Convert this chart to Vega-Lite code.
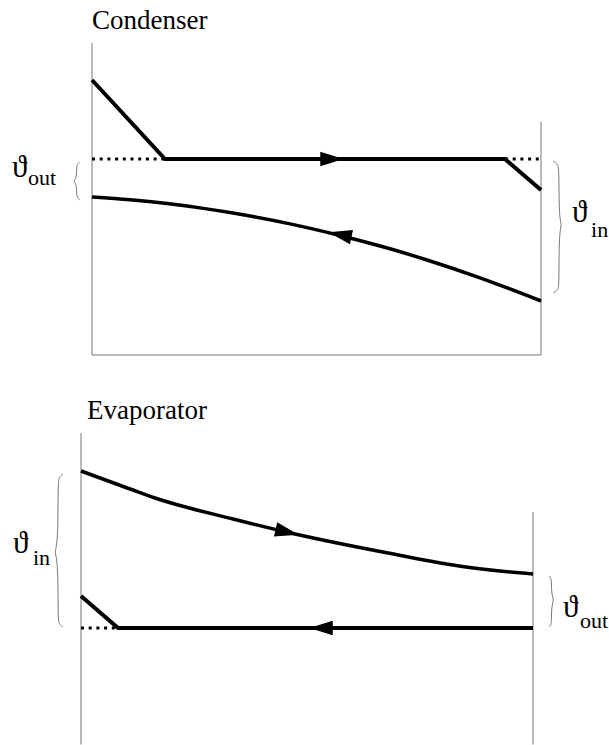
{
  "$schema": "https://vega.github.io/schema/vega-lite/v6.json",
  "width": 609,
  "height": 745,
  "autosize": {"type": "none"},
  "padding": 0,
  "background": "white",
  "config": {"view": {"stroke": null}},
  "datasets": {
    "condenser": [
      {"part": "frame", "X": 0, "T": 78, "X2": 0, "T2": 0},
      {"part": "frame", "X": 100, "T": 58.25, "X2": 100, "T2": 0},
      {"part": "frame", "X": 0, "T": 0, "X2": 100, "T2": 0},
      {"part": "dotted", "X": 0, "T": 49, "X2": 16.26, "T2": 49},
      {"part": "dotted", "X": 91.98, "T": 49, "X2": 100, "T2": 49},
      {"part": "refrigerant", "X": 0, "T": 68.75},
      {"part": "refrigerant", "X": 16.26, "T": 49},
      {"part": "refrigerant", "X": 91.98, "T": 49},
      {"part": "refrigerant", "X": 100, "T": 41.25},
      {"part": "water", "X": 0, "T": 39.5},
      {"part": "water", "X": 8.46, "T": 38.79},
      {"part": "water", "X": 16.7, "T": 37.85},
      {"part": "water", "X": 24.05, "T": 36.78},
      {"part": "water", "X": 31.4, "T": 35.48},
      {"part": "water", "X": 44.1, "T": 32.78},
      {"part": "water", "X": 55.68, "T": 29.75},
      {"part": "water", "X": 66.37, "T": 26.55},
      {"part": "water", "X": 74.61, "T": 23.75},
      {"part": "water", "X": 86.41, "T": 19.3},
      {"part": "water", "X": 100, "T": 13.5},
      {"part": "arrowR", "X": 53.45, "T": 49},
      {"part": "arrowL", "X": 55.23, "T": 30.1},
      {"part": "brace", "id": "out", "i": 0, "X": -2.673, "T": 48.25},
      {"part": "brace", "id": "out", "i": 1, "X": -3.341, "T": 47.75},
      {"part": "brace", "id": "out", "i": 2, "X": -3.452, "T": 46.25},
      {"part": "brace", "id": "out", "i": 3, "X": -3.452, "T": 44.25},
      {"part": "brace", "id": "out", "i": 4, "X": -4.232, "T": 43.5},
      {"part": "brace", "id": "out", "i": 5, "X": -3.452, "T": 42.75},
      {"part": "brace", "id": "out", "i": 6, "X": -3.452, "T": 40.75},
      {"part": "brace", "id": "out", "i": 7, "X": -3.341, "T": 39.25},
      {"part": "brace", "id": "out", "i": 8, "X": -2.673, "T": 38.75},
      {"part": "brace", "id": "in", "i": 0, "X": 102.67, "T": 48.5},
      {"part": "brace", "id": "in", "i": 1, "X": 103.79, "T": 47.75},
      {"part": "brace", "id": "in", "i": 2, "X": 104.01, "T": 45.75},
      {"part": "brace", "id": "in", "i": 3, "X": 104.01, "T": 34.25},
      {"part": "brace", "id": "in", "i": 4, "X": 104.68, "T": 32.5},
      {"part": "brace", "id": "in", "i": 5, "X": 104.01, "T": 30.75},
      {"part": "brace", "id": "in", "i": 6, "X": 104.01, "T": 17.5},
      {"part": "brace", "id": "in", "i": 7, "X": 103.79, "T": 16.25},
      {"part": "brace", "id": "in", "i": 8, "X": 102.67, "T": 15.5},
      {"part": "title", "X": 0, "T": 81.5, "label": "Condenser"},
      {"part": "symbol", "X": -17.81, "T": 44.5, "label": "ϑ"},
      {"part": "symbol", "X": 106.9, "T": 33.25, "label": "ϑ"},
      {"part": "sub", "X": -14.25, "T": 42.5, "label": "out"},
      {"part": "sub", "X": 111.14, "T": 29.5, "label": "in"}
    ],
    "evaporator": [
      {"part": "frame", "X": 0, "T": 78, "X2": 0, "T2": 0.125},
      {"part": "frame", "X": 100, "T": 58.25, "X2": 100, "T2": 0.125},
      {"part": "dotted", "X": 0, "T": 29.25, "X2": 8.19, "T2": 29.25},
      {"part": "refrigerant", "X": 0, "T": 37.25},
      {"part": "refrigerant", "X": 8.19, "T": 29.25},
      {"part": "refrigerant", "X": 100, "T": 29.25},
      {"part": "water", "X": 0, "T": 68.5},
      {"part": "water", "X": 10.84, "T": 64},
      {"part": "water", "X": 16.37, "T": 61.75},
      {"part": "water", "X": 33.63, "T": 56.5},
      {"part": "water", "X": 47.35, "T": 52.75},
      {"part": "water", "X": 67.92, "T": 48},
      {"part": "water", "X": 85.18, "T": 44.5},
      {"part": "water", "X": 92.7, "T": 43.5},
      {"part": "water", "X": 100, "T": 42.75},
      {"part": "arrowR", "X": 45.58, "T": 53.25},
      {"part": "arrowL", "X": 53.1, "T": 29.25},
      {"part": "brace", "id": "in", "i": 0, "X": -3.982, "T": 67.75},
      {"part": "brace", "id": "in", "i": 1, "X": -4.867, "T": 67},
      {"part": "brace", "id": "in", "i": 2, "X": -5.088, "T": 65.25},
      {"part": "brace", "id": "in", "i": 3, "X": -5.088, "T": 50},
      {"part": "brace", "id": "in", "i": 4, "X": -5.973, "T": 48.25},
      {"part": "brace", "id": "in", "i": 5, "X": -5.088, "T": 46.5},
      {"part": "brace", "id": "in", "i": 6, "X": -5.088, "T": 31.75},
      {"part": "brace", "id": "in", "i": 7, "X": -4.867, "T": 30.25},
      {"part": "brace", "id": "in", "i": 8, "X": -3.982, "T": 29.5},
      {"part": "brace", "id": "out", "i": 0, "X": 103.54, "T": 42.25},
      {"part": "brace", "id": "out", "i": 1, "X": 103.98, "T": 41.75},
      {"part": "brace", "id": "out", "i": 2, "X": 104.09, "T": 40.5},
      {"part": "brace", "id": "out", "i": 3, "X": 104.09, "T": 37.75},
      {"part": "brace", "id": "out", "i": 4, "X": 104.65, "T": 36.25},
      {"part": "brace", "id": "out", "i": 5, "X": 104.09, "T": 34.75},
      {"part": "brace", "id": "out", "i": 6, "X": 104.09, "T": 31.25},
      {"part": "brace", "id": "out", "i": 7, "X": 103.98, "T": 30},
      {"part": "brace", "id": "out", "i": 8, "X": 103.54, "T": 29.5},
      {"part": "title", "X": 1.33, "T": 81.5, "label": "Evaporator"},
      {"part": "symbol", "X": -15.04, "T": 48, "label": "ϑ"},
      {"part": "symbol", "X": 106.64, "T": 32, "label": "ϑ"},
      {"part": "sub", "X": -10.62, "T": 45, "label": "in"},
      {"part": "sub", "X": 110.4, "T": 29.25, "label": "out"}
    ]
  },
  "layer": [
    {
      "data": {"name": "condenser"},
      "encoding": {
        "x": {"field": "X", "type": "quantitative", "axis": null, "scale": {"domain": [-20.49, 115.14], "nice": false, "zero": false}},
        "y": {"field": "T", "type": "quantitative", "axis": null, "scale": {"domain": [-97.5, 88.75], "nice": false, "zero": false}}
      },
      "layer": [
        {"transform": [{"filter": "datum.part === 'frame'"}], "mark": {"type": "rule", "color": "#777777", "strokeWidth": 1}, "encoding": {"x2": {"field": "X2"}, "y2": {"field": "T2"}}},
        {"transform": [{"filter": "datum.part === 'dotted'"}], "mark": {"type": "rule", "color": "black", "strokeWidth": 3, "strokeDash": [3, 4.7], "strokeCap": "butt"}, "encoding": {"x2": {"field": "X2"}, "y2": {"field": "T2"}}},
        {"transform": [{"filter": "datum.part === 'refrigerant'"}], "mark": {"type": "line", "color": "black", "strokeWidth": 4, "strokeJoin": "miter"}, "encoding": {}},
        {"transform": [{"filter": "datum.part === 'water'"}], "mark": {"type": "line", "color": "black", "strokeWidth": 3.5, "interpolate": "monotone"}, "encoding": {}},
        {"transform": [{"filter": "datum.part === 'arrowR'"}], "mark": {"type": "point", "shape": "M-1,-0.62L1,0L-1,0.62Z", "size": 550, "filled": true, "color": "black", "opacity": 1, "strokeWidth": 0}},
        {"transform": [{"filter": "datum.part === 'arrowL'"}], "mark": {"type": "point", "shape": "M1,-0.62L-1,0L1,0.62Z", "size": 550, "filled": true, "color": "black", "opacity": 1, "strokeWidth": 0, "angle": 12}},
        {"transform": [{"filter": "datum.part === 'brace'"}], "mark": {"type": "line", "color": "#777777", "strokeWidth": 1, "interpolate": "basis"}, "encoding": {"detail": {"field": "id"}, "order": {"field": "i"}}},
        {"transform": [{"filter": "datum.part === 'title'"}], "mark": {"type": "text", "align": "left", "baseline": "alphabetic", "font": "Liberation Serif", "fontSize": 27, "color": "black"}, "encoding": {"text": {"field": "label"}}},
        {"transform": [{"filter": "datum.part === 'symbol'"}], "mark": {"type": "text", "align": "left", "baseline": "alphabetic", "font": "Liberation Serif", "fontSize": 31, "color": "black"}, "encoding": {"text": {"field": "label"}}},
        {"transform": [{"filter": "datum.part === 'sub'"}], "mark": {"type": "text", "align": "left", "baseline": "alphabetic", "font": "Liberation Serif", "fontSize": 22, "color": "black"}, "encoding": {"text": {"field": "label"}}}
      ]
    },
    {
      "data": {"name": "evaporator"},
      "encoding": {
        "x": {"field": "X", "type": "quantitative", "axis": null, "scale": {"domain": [-17.92, 116.81], "nice": false, "zero": false}},
        "y": {"field": "T", "type": "quantitative", "axis": null, "scale": {"domain": [0, 186.25], "nice": false, "zero": false}}
      },
      "layer": [
        {"transform": [{"filter": "datum.part === 'frame'"}], "mark": {"type": "rule", "color": "#777777", "strokeWidth": 1}, "encoding": {"x2": {"field": "X2"}, "y2": {"field": "T2"}}},
        {"transform": [{"filter": "datum.part === 'dotted'"}], "mark": {"type": "rule", "color": "black", "strokeWidth": 3, "strokeDash": [3, 4.7], "strokeCap": "butt"}, "encoding": {"x2": {"field": "X2"}, "y2": {"field": "T2"}}},
        {"transform": [{"filter": "datum.part === 'refrigerant'"}], "mark": {"type": "line", "color": "black", "strokeWidth": 4, "strokeJoin": "miter"}, "encoding": {}},
        {"transform": [{"filter": "datum.part === 'water'"}], "mark": {"type": "line", "color": "black", "strokeWidth": 3.5, "interpolate": "monotone"}, "encoding": {}},
        {"transform": [{"filter": "datum.part === 'arrowR'"}], "mark": {"type": "point", "shape": "M-1,-0.62L1,0L-1,0.62Z", "size": 550, "filled": true, "color": "black", "opacity": 1, "strokeWidth": 0, "angle": 13}},
        {"transform": [{"filter": "datum.part === 'arrowL'"}], "mark": {"type": "point", "shape": "M1,-0.62L-1,0L1,0.62Z", "size": 550, "filled": true, "color": "black", "opacity": 1, "strokeWidth": 0}},
        {"transform": [{"filter": "datum.part === 'brace'"}], "mark": {"type": "line", "color": "#777777", "strokeWidth": 1, "interpolate": "basis"}, "encoding": {"detail": {"field": "id"}, "order": {"field": "i"}}},
        {"transform": [{"filter": "datum.part === 'title'"}], "mark": {"type": "text", "align": "left", "baseline": "alphabetic", "font": "Liberation Serif", "fontSize": 27, "color": "black"}, "encoding": {"text": {"field": "label"}}},
        {"transform": [{"filter": "datum.part === 'symbol'"}], "mark": {"type": "text", "align": "left", "baseline": "alphabetic", "font": "Liberation Serif", "fontSize": 31, "color": "black"}, "encoding": {"text": {"field": "label"}}},
        {"transform": [{"filter": "datum.part === 'sub'"}], "mark": {"type": "text", "align": "left", "baseline": "alphabetic", "font": "Liberation Serif", "fontSize": 22, "color": "black"}, "encoding": {"text": {"field": "label"}}}
      ]
    }
  ],
  "resolve": {"scale": {"x": "independent", "y": "independent"}}
}
